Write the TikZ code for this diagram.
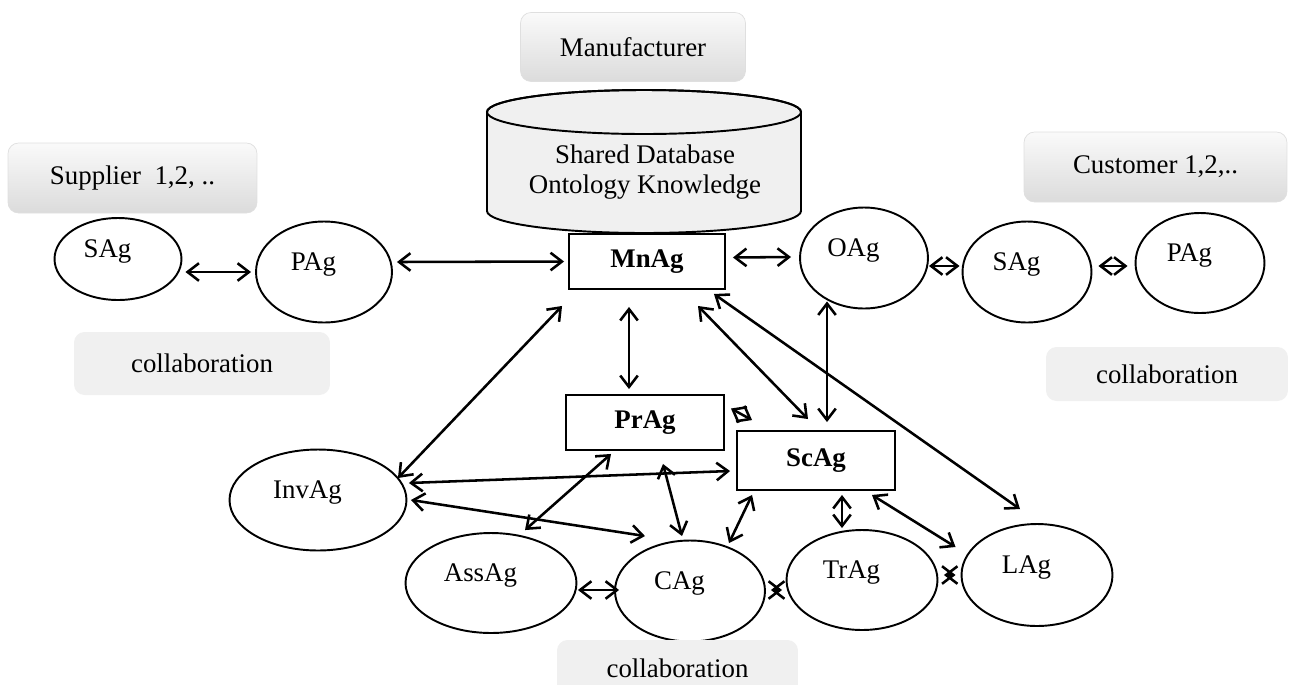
\documentclass[tikz,border=0pt]{standalone}
\usepackage{fontspec}
\setmainfont{Liberation Serif}
\usetikzlibrary{arrows.meta, shapes.geometric}
\newcommand{\diagfont}{\fontsize{15.3}{17.5}\selectfont}
\tikzset{
  agent/.style={ellipse, draw, line width=1.1pt, inner sep=0pt,
    text height=10pt, text depth=11.5pt, execute at end node={\hspace*{12pt}}},
  chief/.style={rectangle, draw, line width=1.1pt, font=\diagfont\bfseries},
  role/.style={rectangle, rounded corners=6pt, draw=gray!25, top color=gray!4, bottom color=gray!28},
  collab/.style={rectangle, rounded corners=6pt, fill=gray!12},
  link/.style={{Straight Barb[length=6.5pt,width=10pt]}-{Straight Barb[length=6.5pt,width=10pt]}, line width=1.45pt},
}

\begin{document}
\begin{tikzpicture}[x=0.02cm, y=-0.02cm, font=\diagfont]
  \useasboundingbox (0,0) rectangle (1292,684);

  % Actors
  \node[role, minimum width=4.5cm, minimum height=1.38cm] (manu) at (633,47) {Manufacturer};
  \node[role, minimum width=4.98cm, minimum height=1.4cm] (supp) at (132.5,178) {Supplier~ 1,2, ..};
  \node[role, minimum width=5.26cm, minimum height=1.4cm] (cust) at (1155.5,167) {Customer 1,2,..};

  % Shared database (cylinder)
  \draw[line width=1.1pt, fill=gray!12] (487,112) -- (487,211)
    arc[start angle=180, end angle=0, x radius=157, y radius=22] -- (801,112)
    arc[start angle=0, end angle=-180, x radius=157, y radius=22] -- cycle;
  \draw[line width=1.1pt] (644,112) ellipse [x radius=157, y radius=22];
  \node[align=center] (db) at (645,172) {Shared Database\\Ontology Knowledge};

  % Main agents
  \node[chief, minimum width=3.12cm, minimum height=1.1cm] (MnAg) at (647,261.5) {MnAg};
  \node[chief, minimum width=3.16cm, minimum height=1.1cm] (PrAg) at (645,422.5) {PrAg};
  \node[chief, minimum width=3.16cm, minimum height=1.18cm] (ScAg) at (816,460.5) {ScAg};

  % Supplier side
  \node[agent, minimum width=2.54cm, minimum height=1.64cm] (SAgL) at (118,259) {SAg};
  \node[agent, minimum width=2.72cm, minimum height=2.02cm] (PAgL) at (324,272) {PAg};
  \node[collab, minimum width=5.12cm, minimum height=1.26cm] (colL) at (202,363.5) {collaboration};

  % Customer side
  \node[agent, minimum width=2.56cm, minimum height=2.02cm] (OAg) at (864,258) {OAg};
  \node[agent, minimum width=2.58cm, minimum height=2.02cm] (SAgR) at (1027,272) {SAg};
  \node[agent, minimum width=2.58cm, minimum height=2cm] (PAgR) at (1200,263) {PAg};
  \node[collab, minimum width=4.84cm, minimum height=1.08cm] (colR) at (1167,374) {collaboration};

  % Internal agents
  \node[agent, minimum width=3.54cm, minimum height=2.02cm] (InvAg) at (318,500) {InvAg};
  \node[agent, minimum width=3.42cm, minimum height=2cm] (AssAg) at (491,583) {AssAg};
  \node[agent, minimum width=3cm, minimum height=2.02cm] (CAg) at (690,591) {CAg};
  \node[agent, minimum width=3.02cm, minimum height=2cm] (TrAg) at (862,580) {TrAg};
  \node[agent, minimum width=3.02cm, minimum height=2.04cm] (LAg) at (1037,575) {LAg};
  \node[collab, minimum width=4.82cm, minimum height=1.12cm] (colB) at (677.5,668) {collaboration};

  % Links
  \draw[link] ([shift={(3,13)}]SAgL.east) -- ([shift={(-4,0)}]PAgL.west);
  \draw[link] ([shift={(4,-10)}]PAgL.east) -- ([shift={(-4,0)}]MnAg.west);
  \draw[link] ([shift={(7,-4)}]MnAg.east) -- ([shift={(-8,-1)}]OAg.west);
  \draw[link] ([shift={(0,8)}]OAg.east) -- ([shift={(-2,-6)}]SAgR.west);
  \draw[link] ([shift={(6,-6)}]SAgR.east) -- ([shift={(-7,3)}]PAgR.west);
  \draw[link] ([shift={(-18,17)}]MnAg.south) -- ([shift={(-16,-5)}]PrAg.north);
  \draw[link] ([shift={(51,16)}]MnAg.south) -- ([shift={(-8,-11)}]ScAg.north);
  \draw[link] ([shift={(-12,4)}]MnAg.south east) -- ([shift={(-17,-14)}]LAg.north);
  \draw[link] ([shift={(-37,-8)}]OAg.south) -- ([shift={(11,-8)}]ScAg.north);
  \draw[link] ([shift={(-6,16)}]MnAg.south west) -- ([shift={(-9.5,-22)}]InvAg.east);
  \draw[link] ([shift={(1.5,-17)}]InvAg.east) -- ([shift={(-6,10.5)}]ScAg.west);
  \draw[link] ([shift={(3.5,0)}]InvAg.east) -- ([shift={(-45,-3.5)}]CAg.north);
  \draw[link] ([shift={(-34,3)}]PrAg.south) -- ([shift={(34,-2)}]AssAg.north);
  \draw[link] ([shift={(18,13)}]PrAg.south) -- ([shift={(-8,-3.5)}]CAg.north);
  \draw[link] ([shift={(6,-14)}]PrAg.east) -- ([shift={(16,-10)}]ScAg.north west);
  \draw[link] ([shift={(16,4)}]ScAg.south west) -- ([shift={(39,3.5)}]CAg.north);
  \draw[link] ([shift={(26,4)}]ScAg.south) -- ([shift={(-20,-1)}]TrAg.north);
  \draw[link] ([shift={(56,4)}]ScAg.south) -- ([shift={(-5,-28)}]LAg.west);
  \draw[link] ([shift={(0.5,7)}]AssAg.east) -- ([shift={(5,-1)}]CAg.west);
  \draw[link] ([shift={(5,-1)}]CAg.east) -- ([shift={(-3.5,10)}]TrAg.west);
  \draw[link] ([shift={(5.5,-5)}]TrAg.east) -- ([shift={(-5,0)}]LAg.west);
\end{tikzpicture}
\end{document}
